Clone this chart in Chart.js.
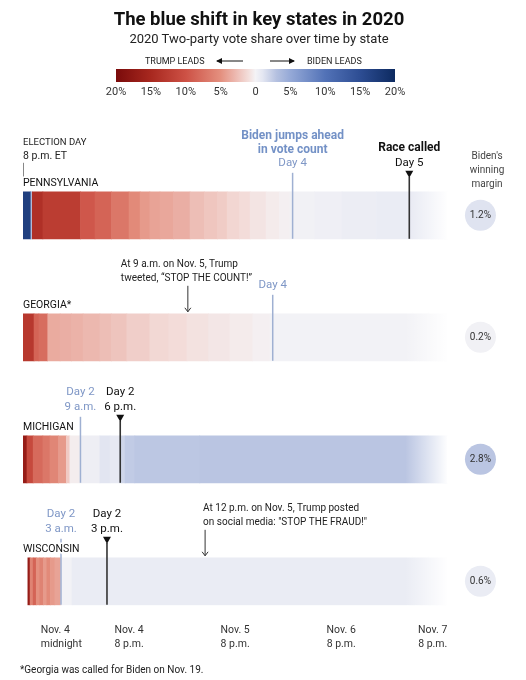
<!DOCTYPE html>
<html>
<head>
<meta charset="utf-8">
<script src="https://cdn.jsdelivr.net/npm/chart.js@4.4.1/dist/chart.umd.min.js"></script>
<style>
  body { margin: 0; background: #fff; }
  #wrap { position: relative; width: 526px; height: 680px; overflow: hidden; font-family: Roboto, "Liberation Sans", sans-serif; color: #222; }
  #wrap canvas { position: absolute; left: 0; top: 0; }
  .abs { position: absolute; white-space: nowrap; }
</style>
</head>
<body>
<div id="wrap">
  <canvas id="chart" width="526" height="680" style="width:526px;height:680px"></canvas>
  <div class="abs" style="left:0;width:518px;top:8px;text-align:center;font-weight:700;font-size:18.5px;line-height:22px;color:#111">The blue shift in key states in 2020</div>
  <div class="abs" style="left:0;width:518px;top:31px;text-align:center;font-size:13px;line-height:16px;color:#222">2020 Two-party vote share over time by state</div>
  <div class="abs" style="left:145px;top:55px;font-size:9px;line-height:12px;color:#222">TRUMP LEADS</div>
  <div class="abs" style="left:307px;top:55px;font-size:9px;line-height:12px;color:#222">BIDEN LEADS</div>
  <svg class="abs" style="left:212px;top:56px" width="90" height="10">
    <line x1="5" y1="5" x2="31" y2="5" stroke="#111" stroke-width="1"/>
    <path d="M4,5 L10,2 L10,8 Z" fill="#111"/>
    <line x1="58" y1="5" x2="82" y2="5" stroke="#111" stroke-width="1"/>
    <path d="M83,5 L77,2 L77,8 Z" fill="#111"/>
  </svg>
  <div id="legendBar" class="abs" style="left:116px;top:69px;width:279px;height:13px"></div>
  <div id="legendTicks"></div>
  <div class="abs" style="left:20px;top:663px;font-size:10px;line-height:14px;color:#222">*Georgia was called for Biden on Nov. 19.</div>
</div>
<script>
// hours counted from Election Day 8 p.m. ET; margins are Biden minus Trump, in percent
const states = ['PENNSYLVANIA', 'GEORGIA*', 'MICHIGAN', 'WISCONSIN'];
const finalMargins = [1.2, 0.2, 2.8, 0.6];

const paHours   = [0, 1.8, 2.1, 4.5, 13, 16.3, 20, 24, 26.5, 28.7, 31, 34, 37.8, 41, 44, 46.2, 49, 51.4, 55, 58, 60.4, 66, 72.2, 80, 87.6, 96];
const paMargins = [17, 3, -14, -12.5, -9.5, -8.5, -7, -5.5, -4.5, -4, -3.8, -3.4, -2.6, -2.2, -1.9, -1.4, -1.1, -0.7, -0.4, -0.2, 0.2, 0.3, 0.5, 0.6, 0.9];

const gaHours   = [0, 2.5, 3.6, 5.6, 8.4, 11, 13.6, 17.4, 20, 23.5, 28.7, 33, 37.1, 42, 46.8, 52, 55.9, 96];
const gaMargins = [-13, -8.5, -7.8, -3.6, -3.4, -3.2, -2.9, -2.6, -2.3, -1.8, -1.3, -1.1, -0.8, -0.6, -0.4, -0.2, 0.1];

const miHours   = [0, 0.9, 2.3, 4.5, 6.1, 8, 9.8, 10.6, 12.9, 17.4, 19.7, 21.9, 23.1, 25.3, 40, 96];
const miMargins = [-17, -11, -8, -7, -5.8, -4.5, -2, -0.3, 0.4, 1.1, 0.8, 1.9, 2.5, 2.7, 2.8];

const wiHours   = [1.1, 1.6, 2.3, 3, 3.8, 4.6, 5.4, 6.2, 7.2, 8.6, 11.1, 96];
const wiMargins = [-17, -6, -8.5, -5, -6, -4.5, -5.5, -4.5, -4, 0.1, 0.6];

// when Biden took the lead, and when the race was called
const leadHours   = [61, 56.5, 13, 8.6];
const leadLabels  = [['Day 4'], ['Day 4'], ['Day 2', '9 a.m.'], ['Day 2', '3 a.m.']];
const calledHours = [87.4, null, 22, 19];
const calledLabels = [['Race called', 'Day 5'], null, ['Day 2', '6 p.m.'], ['Day 2', '3 p.m.']];
const trumpPostHours = [null, 37.3, null, 41.2];
const trumpPostLabels = [null,
  ['At 9 a.m. on Nov. 5, Trump', 'tweeted, \u201cSTOP THE COUNT!\u201d'], null,
  ['At 12 p.m. on Nov. 5, Trump posted', 'on social media: "STOP THE FRAUD!"']];

const tickHours  = [4, 24, 48, 72, 96];
const tickLabels = [['Nov. 4', 'midnight'], ['Nov. 4', '8 p.m.'], ['Nov. 5', '8 p.m.'], ['Nov. 6', '8 p.m.'], ['Nov. 7', '8 p.m.']];
const legendTicks = [-20, -15, -10, -5, 0, 5, 10, 15, 20];

// colour scale
const colorStopValues = [-20, -15, -10, -5, -3, -1, 0, 1, 3, 5, 10, 15, 20];
const colorStopHex = ['#7a0b0b', '#a8281f', '#cd5145', '#e4907f', '#ecb6ad', '#f3dedb', '#f4f3f6', '#e4e7f2', '#b5c1e0', '#95a9d7', '#5272b7', '#2d4d93', '#0d2a60'];

function hexRgb(h) {
  const n = parseInt(h.slice(1), 16);
  return [n >> 16, (n >> 8) & 255, n & 255];
}
function marginColor(m) {
  const v = Math.max(-20, Math.min(20, m));
  let k = 0;
  while (k < colorStopValues.length - 2 && v > colorStopValues[k + 1]) k++;
  const t = (v - colorStopValues[k]) / (colorStopValues[k + 1] - colorStopValues[k]);
  const a = hexRgb(colorStopHex[k]), b = hexRgb(colorStopHex[k + 1]);
  const c = a.map((x, i) => Math.round(x + (b[i] - x) * t));
  return `rgb(${c[0]},${c[1]},${c[2]})`;
}

// legend
document.getElementById('legendBar').style.background =
  'linear-gradient(to right,' + colorStopValues.map((v, k) => `${colorStopHex[k]} ${(v + 20) / 40 * 100}%`).join(',') + ')';
const lt = document.getElementById('legendTicks');
legendTicks.forEach(v => {
  const d = document.createElement('div');
  d.className = 'abs';
  d.style.cssText = `left:${116 + (v + 20) / 40 * 279}px;top:85px;transform:translateX(-50%);font-size:11px;line-height:14px;color:#333`;
  d.textContent = v === 0 ? '0' : Math.abs(v) + '%';
  lt.appendChild(d);
});

const BAR = 47;
const rows = [
  { hours: paHours, margins: paMargins },
  { hours: gaHours, margins: gaMargins },
  { hours: miHours, margins: miMargins },
  { hours: wiHours, margins: wiMargins }
];

const datasets = rows.map((r, i) => ({
  label: states[i],
  data: r.margins.map((m, k) => ({ x: [r.hours[k], r.hours[k + 1]], y: i })),
  backgroundColor: r.margins.map(marginColor),
  borderWidth: 0,
  barThickness: BAR,
  grouped: false
}));

const FONT = 'Roboto, "Liberation Sans", sans-serif';

function txt(ctx, s, x, y, size, color, align, bold) {
  ctx.font = (bold ? '700 ' : '') + size + 'px ' + FONT;
  ctx.fillStyle = color;
  ctx.textAlign = align || 'left';
  ctx.textBaseline = 'middle';
  ctx.fillText(s, x, y);
}

const notes = {
  id: 'notes',
  afterDatasetsDraw(chart) {
    const { ctx, scales: { x, y } } = chart;
    const X = h => x.getPixelForValue(h);
    const top = i => y.getPixelForValue(i) - BAR / 2;
    ctx.save();

    // fade out the right end of each bar
    states.forEach((s, i) => {
      const x0 = X(86.5), x1 = X(96) + 1;
      const g = ctx.createLinearGradient(x0, 0, x1, 0);
      g.addColorStop(0, 'rgba(255,255,255,0)');
      g.addColorStop(1, 'rgba(255,255,255,1)');
      ctx.fillStyle = g;
      ctx.fillRect(x0, top(i) - 1, x1 - x0 + 2, BAR + 2);
    });

    // election day marker
    const t0 = top(0);
    txt(ctx, 'ELECTION DAY', X(0), t0 - 49, 9.5, '#222');
    txt(ctx, '8 p.m. ET', X(0), t0 - 35, 10.5, '#222');
    ctx.strokeStyle = '#888'; ctx.lineWidth = 1;
    ctx.beginPath(); ctx.moveTo(Math.round(X(0)) + 0.5, t0 - 29); ctx.lineTo(Math.round(X(0)) + 0.5, t0 - 12); ctx.stroke();

    states.forEach((s, i) => {
      const T = top(i);
      // Biden takes the lead
      const lx = X(leadHours[i]);
      ctx.strokeStyle = '#9fb0d2'; ctx.lineWidth = 1.5;
      ctx.beginPath(); ctx.moveTo(lx, T - 19); ctx.lineTo(lx, T + BAR); ctx.stroke();
      const ll = leadLabels[i];
      ll.forEach((line, k) => txt(ctx, line, lx, T - 29 - (ll.length - 1 - k) * 15, 11.5, '#7f97c6', 'center'));
      if (i === 0) {
        txt(ctx, 'Biden jumps ahead', lx, T - 56, 12, '#7391c6', 'center', true);
        txt(ctx, 'in vote count', lx, T - 42, 12, '#7391c6', 'center', true);
      }
      // race called
      if (calledHours[i] !== null) {
        const cx = X(calledHours[i]);
        ctx.strokeStyle = '#333'; ctx.lineWidth = 1.6;
        ctx.beginPath(); ctx.moveTo(cx, T - 15); ctx.lineTo(cx, T + BAR); ctx.stroke();
        ctx.fillStyle = '#111';
        ctx.beginPath(); ctx.moveTo(cx - 4, T - 21); ctx.lineTo(cx + 4, T - 21); ctx.lineTo(cx, T - 14); ctx.closePath(); ctx.fill();
        const cl = calledLabels[i];
        cl.forEach((line, k) => txt(ctx, line, cx, T - 29 - (cl.length - 1 - k) * 15, k === 0 && i === 0 ? 12 : 11.5, '#111', 'center', k === 0 && i === 0));
      }
      // Trump posts
      if (trumpPostHours[i] !== null) {
        const px = X(trumpPostHours[i]);
        ctx.strokeStyle = '#333'; ctx.lineWidth = 1;
        ctx.beginPath(); ctx.moveTo(px, T - 28); ctx.lineTo(px, T - 2);
        ctx.moveTo(px - 3, T - 6); ctx.lineTo(px, T - 2); ctx.lineTo(px + 3, T - 6); ctx.stroke();
        const tl = trumpPostLabels[i];
        const tx = i === 1 ? px - 67 : px - 2;
        txt(ctx, tl[0], tx, T - 49, 10, '#222');
        txt(ctx, tl[1], tx, T - 35, 10, '#222');
      }
      // state name with white halo
      ctx.font = '10.5px ' + FONT; ctx.textAlign = 'left'; ctx.textBaseline = 'middle';
      ctx.strokeStyle = '#fff'; ctx.lineWidth = 3;
      ctx.strokeText(s, X(0), T - 8);
      ctx.fillStyle = '#111';
      ctx.fillText(s, X(0), T - 8);

      // winning margin circle
      const cy = y.getPixelForValue(i);
      ctx.fillStyle = marginColor(finalMargins[i]);
      ctx.beginPath(); ctx.arc(X(103.5), cy, 15.5, 0, Math.PI * 2); ctx.fill();
      txt(ctx, finalMargins[i].toFixed(1) + '%', X(103.5), cy, 10, '#333', 'center');
    });

    txt(ctx, "Biden's", X(105), t0 - 35, 10, '#444', 'center');
    txt(ctx, 'winning', X(105), t0 - 21, 10, '#444', 'center');
    txt(ctx, 'margin', X(105), t0 - 7, 10, '#444', 'center');
    ctx.restore();
  }
};

new Chart(document.getElementById('chart'), {
  type: 'bar',
  data: { datasets },
  options: {
    indexAxis: 'y',
    responsive: false,
    animation: false,
    events: [],
    layout: { padding: { left: 23, right: 78.7, top: 148.2, bottom: 11 } },
    plugins: { legend: { display: false }, tooltip: { enabled: false } },
    scales: {
      x: {
        type: 'linear', min: 0, max: 96,
        grid: { display: false, drawTicks: false },
        border: { display: false },
        afterBuildTicks: axis => { axis.ticks = tickHours.map(v => ({ value: v })); },
        ticks: {
          autoSkip: false, maxRotation: 0, align: 'inner', padding: 18, color: '#333',
          font: { family: FONT, size: 10.5, lineHeight: 1.3 },
          callback: (v, idx) => tickLabels[idx]
        }
      },
      y: { type: 'linear', reverse: true, min: -0.55, max: 3.2, offset: false, display: false }
    }
  },
  plugins: [notes]
});
</script>
</body>
</html>
